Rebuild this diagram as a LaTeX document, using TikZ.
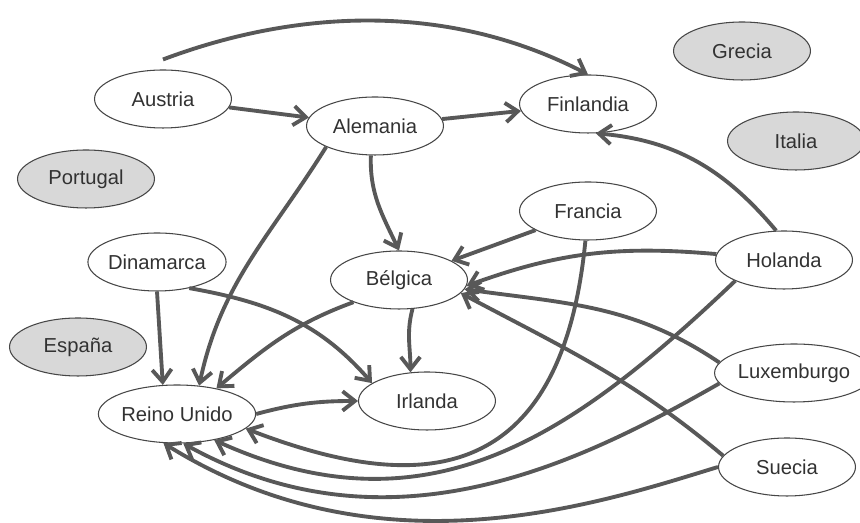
\documentclass[tikz,border=0pt]{standalone}
\usepackage{fontspec}
\setmainfont{Liberation Sans}
\usetikzlibrary{shapes.geometric,arrows.meta}
\definecolor{linea}{RGB}{88,88,88}
\definecolor{borde}{RGB}{70,70,70}
\definecolor{relleno}{RGB}{216,216,216}
\definecolor{texto}{RGB}{50,50,50}

\begin{document}
\begin{tikzpicture}[x=0.02cm,y=0.02cm,
		pais/.style={ellipse,draw=borde,line width=0.6pt,minimum width=2.74cm,minimum height=1.16cm,inner sep=0pt,text=texto,font=\fontsize{11.5}{13}\selectfont},
		gris/.style={pais,fill=relleno},
		enlace/.style={draw=linea,line width=2.2pt,-{Straight Barb[length=7pt,width=11pt]}}]
		\useasboundingbox[fill=white] (0,0) rectangle (860,523);

		% paises
		\node[pais] (austria) at (163,424) {Austria};
		\node[pais] (alemania) at (375,397) {Alemania};
		\node[pais] (finlandia) at (588,419) {Finlandia};
		\node[gris] (grecia) at (742,472) {Grecia};
		\node[gris] (italia) at (796,382) {Italia};
		\node[gris] (portugal) at (86,344) {Portugal};
		\node[pais] (francia) at (588,312) {Francia};
		\node[pais] (dinamarca) at (157,261) {Dinamarca};
		\node[pais] (belgica) at (399,243) {Bélgica};
		\node[pais] (holanda) at (784,263) {Holanda};
		\node[gris] (espana) at (78,176) {España};
		\node[pais] (luxemburgo) at (794,150) {Luxemburgo};
		\node[pais] (reino) at (177,109) {Reino Unido};
		\node[pais] (irlanda) at (427,122) {Irlanda};
		\node[pais] (suecia) at (787,56) {Suecia};

		% relaciones
		\draw[enlace] (austria.north) ++(0,10) coordinate (salida) (salida) .. controls (300,515) and (450,520) .. (finlandia.north);
		\draw[enlace] (austria) -- (alemania);
		\draw[enlace] (alemania) -- (finlandia);
		\draw[enlace] (alemania.-98) to[out=-92,in=115] (belgica.north);
		\draw[enlace] (alemania.south west) to[out=-122,in=78] (reino.52);
		\draw[enlace] (dinamarca.south) -- (reino.116);
		\draw[enlace] (dinamarca.-39) to[out=-10,in=131] (irlanda.162);
		\draw[enlace] (belgica.-154) to[out=200,in=40] (reino.33);
		\draw[enlace] (belgica.-65) to[out=-105,in=90] (irlanda.120);
		\draw[enlace] (francia) -- (belgica);
		\draw[enlace] (francia.-95) .. controls (560,20) and (400,35) .. (reino.-12);
		\draw[enlace] (holanda.175) to[out=175,in=20] (belgica.-5);
		\draw[enlace] (holanda.105) to[out=130,in=-5] (finlandia.-75);
		\draw[enlace] (holanda.south west) .. controls (575,90) and (430,-15) .. (reino.-35);
		\draw[enlace] (luxemburgo.172) to[out=146,in=-8] (belgica.-8);
		\draw[enlace] (luxemburgo.188) .. controls (580,60) and (390,-35) .. (reino.-78);
		\draw[enlace] (suecia.170) to[out=140,in=-28] (belgica.-12);
		\draw[enlace] (suecia.west) .. controls (600,20) and (380,-55) .. (reino.-115);
		\draw[enlace] (reino.east) to[out=15,in=180] (irlanda.west);
	\end{tikzpicture}
\end{document}
